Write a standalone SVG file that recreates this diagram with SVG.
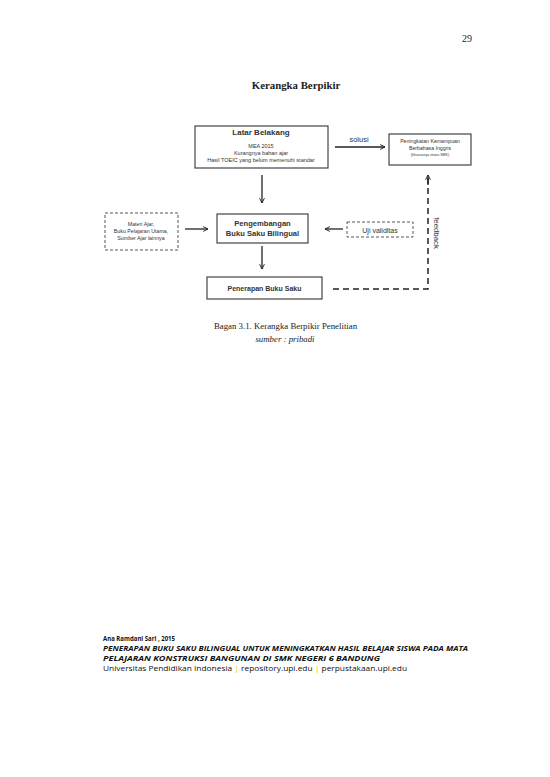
<svg xmlns="http://www.w3.org/2000/svg" width="550" height="777" viewBox="0 0 550 777">
<style>
.box{fill:#fff;stroke:#444;stroke-width:1.2}
.dbox{fill:#fff;stroke:#555;stroke-width:1;stroke-dasharray:3,2}
.ln{fill:none;stroke:#222;stroke-width:1.3}
.dl{fill:none;stroke:#222;stroke-width:1.5;stroke-dasharray:6,4}
.s{font-family:"Liberation Sans",Arial,sans-serif;fill:#333}
.b{font-weight:bold}
.t{font-family:"Liberation Serif","Times New Roman",serif;fill:#222}
.f{font-family:"Open Sans","Liberation Sans",sans-serif;fill:#111}
</style>
<defs>
<marker id="ah" viewBox="0 0 10 10" refX="9" refY="5" markerWidth="6" markerHeight="6" orient="auto" markerUnits="userSpaceOnUse">
<path d="M1,1 L9,5 L1,9" fill="none" stroke="#222" stroke-width="1.6"/>
</marker>
</defs>
<rect width="550" height="777" fill="#fff"/>
<text class="t" x="472" y="42" font-size="10" text-anchor="end">29</text>
<text class="t b" x="296" y="89" font-size="10.8" text-anchor="middle">Kerangka Berpikir</text>

<g id="connectors">
<line class="ln" x1="262" y1="175" x2="262" y2="203" marker-end="url(#ah)"/>
<line class="ln" x1="185" y1="229" x2="208" y2="229" marker-end="url(#ah)"/>
<line class="ln" x1="343" y1="229" x2="325" y2="229" marker-end="url(#ah)"/>
<line class="ln" x1="262" y1="246" x2="262" y2="269" marker-end="url(#ah)"/>
<line class="ln" x1="335" y1="147" x2="385" y2="147" marker-end="url(#ah)"/>
<text class="s" x="359" y="142" font-size="7.5" text-anchor="middle">solusi</text>
<path class="dl" d="M333,289 H428 V178"/>
<line class="ln" x1="428" y1="185" x2="428" y2="175" marker-end="url(#ah)"/>
<text class="s" x="0" y="0" font-size="7.8" transform="translate(434,233) rotate(90)" text-anchor="middle">feedback</text>
</g>

<g id="latar">
<rect class="box" x="195" y="126" width="133" height="42"/>
<text class="s b" x="261" y="135" font-size="8" text-anchor="middle">Latar Belakang</text>
<text class="s" x="261" y="148" font-size="5.5" text-anchor="middle">MEA 2015</text>
<text class="s" x="261" y="155" font-size="5.5" text-anchor="middle">Kurangnya bahan ajar</text>
<text class="s" x="261" y="162" font-size="5.5" text-anchor="middle">Hasil TOEIC yang belum memenuhi standar</text>
</g>

<g id="peningkatan">
<rect class="box" x="389" y="134" width="82" height="31"/>
<text class="s" x="430" y="143" font-size="5.2" text-anchor="middle">Peningkatan Kemampuan</text>
<text class="s" x="430" y="150" font-size="5.2" text-anchor="middle">Berbahasa Inggris</text>
<text class="s" x="430" y="156" font-size="3.6" text-anchor="middle">(khususnya siswa SMK)</text>
</g>

<g id="materi">
<rect class="dbox" x="105" y="213" width="73" height="37"/>
<text class="s" x="141" y="226" font-size="5.3" text-anchor="middle">Materi Ajar,</text>
<text class="s" x="141" y="233" font-size="5.3" text-anchor="middle">Buku Pelajaran Utama,</text>
<text class="s" x="141" y="240" font-size="5.3" text-anchor="middle">Sumber Ajar lainnya</text>
</g>

<g id="pengembangan">
<rect class="box" x="217" y="214" width="91" height="29"/>
<text class="s b" x="262.5" y="226" font-size="7.6" text-anchor="middle">Pengembangan</text>
<text class="s b" x="262.5" y="236" font-size="7.6" text-anchor="middle">Buku Saku Bilingual</text>
</g>

<g id="uji">
<rect class="dbox" x="347" y="222" width="66" height="15"/>
<text class="s" x="380" y="232.5" font-size="7" text-anchor="middle">Uji validitas</text>
</g>

<g id="penerapan">
<rect class="box" x="207" y="277" width="115" height="22"/>
<text class="s b" x="264.5" y="291" font-size="7" text-anchor="middle">Penerapan Buku Saku</text>
</g>

<text class="t" x="285.5" y="329" font-size="8.8" text-anchor="middle">Bagan 3.1.  Kerangka Berpikir  Penelitian</text>
<text class="t" x="285" y="342" font-size="8.8" font-style="italic" text-anchor="middle">sumber : pribadi</text>

<g id="footer">
<text class="f b" x="103" y="641" font-size="7.5" textLength="72" lengthAdjust="spacingAndGlyphs">Ana Ramdani Sari  , 2015</text>
<text class="f b" x="103" y="651" font-size="7.2" font-style="italic" textLength="365" lengthAdjust="spacingAndGlyphs">PENERAPAN BUKU SAKU BILINGUAL UNTUK MENINGKATKAN HASIL BELAJAR  SISWA PADA MATA</text>
<text class="f b" x="103" y="661" font-size="7.2" font-style="italic" textLength="277" lengthAdjust="spacingAndGlyphs">PELAJARAN  KONSTRUKSI BANGUNAN DI SMK NEGERI 6 BANDUNG</text>
<text class="f" x="103" y="671" font-size="7.2" textLength="304" lengthAdjust="spacingAndGlyphs">Universitas Pendidikan Indonesia <tspan fill="#f0b400">|</tspan> repository.upi.edu <tspan fill="#f0b400">|</tspan> perpustakaan.upi.edu</text>
</g>
</svg>
